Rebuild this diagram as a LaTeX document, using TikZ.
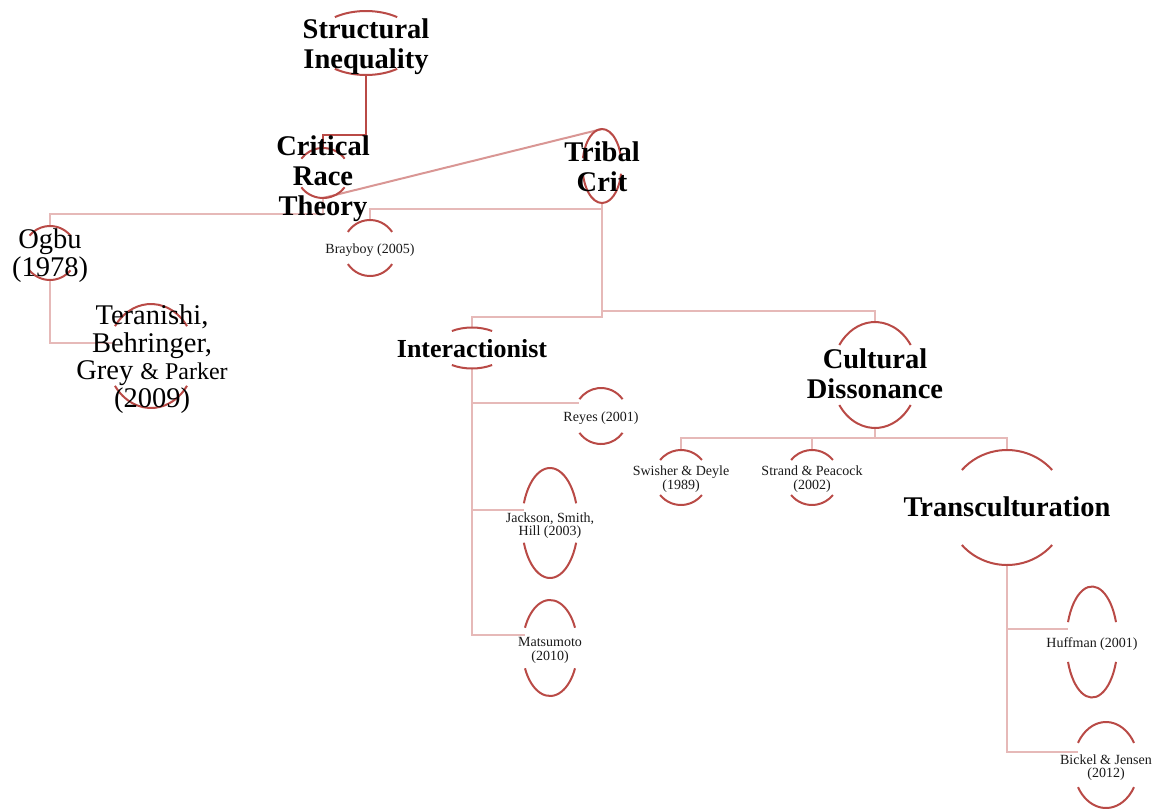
\documentclass[tikz,border=0pt]{standalone}
\usepackage{fontspec}
\setmainfont{Liberation Serif}
\usetikzlibrary{calc}
\definecolor{arcred}{RGB}{185,74,70}
\definecolor{linkpink}{RGB}{230,185,184}
\definecolor{diagpink}{RGB}{217,150,148}
\tikzset{
  big/.style={font=\fontsize{28.5}{30}\selectfont\bfseries, align=center, inner sep=0pt, text=black},
  mid/.style={font=\fontsize{28.5}{27.5}\selectfont, align=center, inner sep=0pt, text=black},
  small/.style={font=\fontsize{14}{13.5}\selectfont, align=center, inner sep=0pt, text=black!90, yshift=-2.5pt},
  arcline/.style={draw=arcred, line width=2pt},
  link/.style={draw=linkpink, line width=2.5pt},
  toplink/.style={draw=arcred, line width=2pt},
  diaglink/.style={draw=diagpink, line width=2pt}
}
% #1 name, #2 x, #3 y (pixels, downward), #4 rx, #5 ry, #6 half-gap angle
\newcommand\ellcoords[6]{%
  \coordinate (#1) at (#2,-#3);
  \coordinate (#1-top) at (#2,-#3+#5);
  \coordinate (#1-bot) at (#2,-#3-#5);
  \coordinate (#1-w) at ({#2-#4*cos(#6)},-#3+13);
}
\newcommand\ellarcs[6]{%
  \draw[arcline] ($(#1)+(#6:#4 and #5)$) arc[start angle=#6, end angle=180-#6, x radius=#4, y radius=#5];
  \draw[arcline] ($(#1)+(180+#6:#4 and #5)$) arc[start angle=180+#6, end angle=360-#6, x radius=#4, y radius=#5];
}
\begin{document}
\begin{tikzpicture}[x=1pt,y=1pt]
\useasboundingbox (0,0) rectangle (1158,-809);
% ellipse geometry
\ellcoords{si}{366}{43}{53}{32}{54}
\ellcoords{crt}{323}{173}{26.4}{25}{35}
\ellcoords{tc}{602}{166}{19.5}{37}{12}
\ellcoords{og}{50}{253}{26.8}{27}{40}
\ellcoords{ter}{151}{356}{44}{52}{35}
\ellcoords{bb}{370}{248}{27}{28}{35}
\ellcoords{int}{472}{348}{36}{20.5}{56}
\ellcoords{rey}{601}{416}{27}{28}{37}
\ellcoords{jsh}{550}{523}{28}{55}{21}
\ellcoords{mat}{550}{648}{27.6}{48}{25}
\ellcoords{cd}{875}{375}{43.3}{53}{34.5}
\ellcoords{sw}{681}{477.5}{27.1}{27.5}{39.5}
\ellcoords{sp}{812}{477.5}{27.1}{27.5}{39.5}
\ellcoords{tr}{1007}{507.5}{59.5}{57.5}{40.7}
\ellcoords{hu}{1092}{642}{25.7}{55.5}{21}
\ellcoords{bj}{1106}{765}{32.7}{43}{31}
% connectors
\draw[toplink] (si-bot) -- ++(0,-60) -| (crt-top);
\draw[link] (crt-bot) -- ++(0,-16) -| (og-top);
\draw[diaglink] (crt-bot) -- (tc-top);
\draw[link] (tc-bot) -- ++(0,-6) -| (bb-top);
\draw[link] (tc-bot) -- ++(0,-114) -| (int-top);
\draw[link] (tc-bot) -- ++(0,-108) -| (cd-top);
\draw[link] (og-bot) |- (ter-w);
\draw[link] (int-bot) |- (rey-w);
\draw[link] (int-bot) |- (jsh-w);
\draw[link] (int-bot) |- (mat-w);
\draw[link] (cd-bot) -- ++(0,-10) -| (sw-top);
\draw[link] (cd-bot) -- ++(0,-10) -| (sp-top);
\draw[link] (cd-bot) -- ++(0,-10) -| (tr-top);
\draw[link] (tr-bot) |- (hu-w);
\draw[link] (tr-bot) |- (bj-w);
% arcs
\ellarcs{si}{366}{43}{53}{32}{54}
\ellarcs{crt}{323}{173}{26.4}{25}{35}
\ellarcs{tc}{602}{166}{19.5}{37}{12}
\ellarcs{og}{50}{253}{26.8}{27}{40}
\ellarcs{ter}{151}{356}{44}{52}{35}
\ellarcs{bb}{370}{248}{27}{28}{35}
\ellarcs{int}{472}{348}{36}{20.5}{56}
\ellarcs{rey}{601}{416}{27}{28}{37}
\ellarcs{jsh}{550}{523}{28}{55}{21}
\ellarcs{mat}{550}{648}{27.6}{48}{25}
\ellarcs{cd}{875}{375}{43.3}{53}{34.5}
\ellarcs{sw}{681}{477.5}{27.1}{27.5}{39.5}
\ellarcs{sp}{812}{477.5}{27.1}{27.5}{39.5}
\ellarcs{tr}{1007}{507.5}{59.5}{57.5}{40.7}
\ellarcs{hu}{1092}{642}{25.7}{55.5}{21}
\ellarcs{bj}{1106}{765}{32.7}{43}{31}
% texts
\node[big] (siT) at (366,-47) {Structural\\Inequality};
\node[big] (crtT) at (323,-179) {Critical\\Race\\Theory};
\node[big] (tcT) at (602,-166.5) {Tribal\\Crit};
\node[mid] (ogT) at (50,-255.5) {Ogbu\\(1978)};
\node[mid] (terT) at (152,-359) {Teranishi,\\Behringer,\\Grey {\fontsize{24}{27.5}\selectfont\& Parker}\\(2009)};
\node[small] (bbT) at (370,-248) {Brayboy (2005)};
\node[big, font=\fontsize{26}{28}\selectfont\bfseries] (intT) at (472,-348.5) {Interactionist};
\node[small] (reyT) at (601,-416) {Reyes (2001)};
\node[small] (jshT) at (550,-523) {Jackson, Smith,\\Hill (2003)};
\node[small] (matT) at (550,-648) {Matsumoto\\(2010)};
\node[big] (cdT) at (875,-374) {Cultural\\Dissonance};
\node[small] (swT) at (681,-476.5) {Swisher \& Deyle\\(1989)};
\node[small] (spT) at (812,-476.5) {Strand \& Peacock\\(2002)};
\node[big] (trT) at (1007,-507) {Transculturation};
\node[small] (huT) at (1092,-642) {Huffman (2001)};
\node[small] (bjT) at (1106,-765) {Bickel \& Jensen\\(2012)};
\end{tikzpicture}
\end{document}
